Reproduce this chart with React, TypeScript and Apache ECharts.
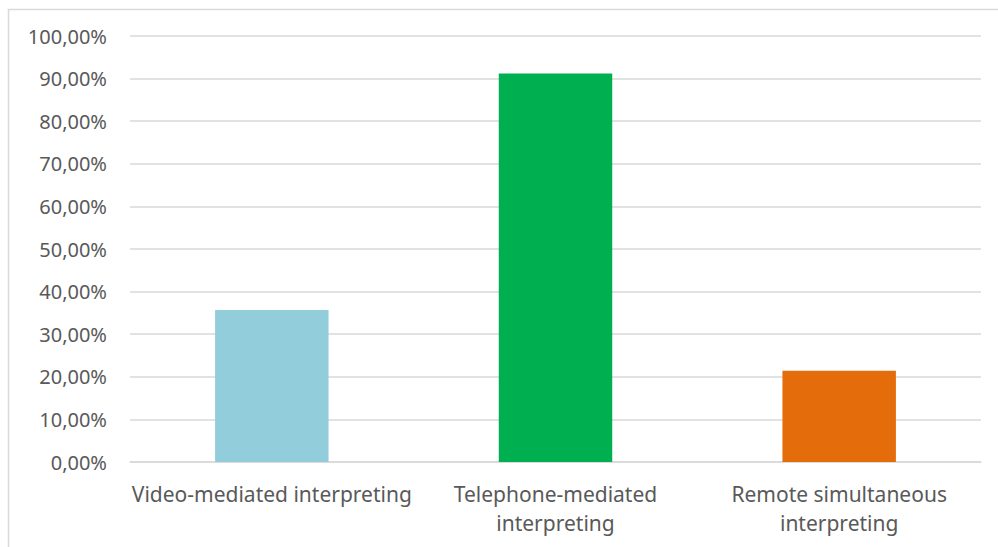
import React, { useEffect, useRef } from "react";
import * as echarts from "echarts";

const categories = [
  "Video-mediated interpreting",
  "Telephone-mediated\ninterpreting",
  "Remote simultaneous\ninterpreting",
];
const values = [35.7, 91.2, 21.4];
const barColors = ["#92CDDC", "#00B050", "#E46C0A"];

export default function App() {
  const ref = useRef<HTMLDivElement>(null);
  useEffect(() => {
    if (!ref.current) return;
    const chart = echarts.init(ref.current, undefined, { renderer: "svg" });
    chart.setOption({
      animation: false,
      backgroundColor: "#ffffff",
      graphic: [
        {
          type: "rect",
          left: 6,
          top: 7,
          shape: { width: 1100, height: 700 },
          style: { fill: "none", stroke: "#d9d9d9", lineWidth: 1.5 },
          silent: true,
          z: -1,
        },
      ],
      grid: { left: 130, right: 17, top: 36, bottom: 85, containLabel: false },
      xAxis: {
        type: "category",
        data: categories,
        axisLine: { show: true, lineStyle: { color: "#d9d9d9", width: 1.5 } },
        axisTick: { show: false },
        axisLabel: {
          interval: 0,
          color: "#595959",
          fontFamily: "Noto Sans",
          fontSize: 21,
          lineHeight: 29,
          margin: 17,
        },
      },
      yAxis: {
        type: "value",
        min: 0,
        max: 100,
        interval: 10,
        axisLine: { show: false },
        axisTick: { show: false },
        splitLine: { lineStyle: { color: "#d9d9d9", width: 1.5 } },
        axisLabel: {
          color: "#595959",
          fontFamily: "Noto Sans",
          fontSize: 20,
          margin: 23,
          formatter: (v: number) => v.toFixed(2).replace(".", ",") + "%",
        },
      },
      series: [
        {
          type: "bar",
          barWidth: "40%",
          data: values.map((v, i) => ({ value: v, itemStyle: { color: barColors[i] } })),
        },
      ],
    });
    return () => chart.dispose();
  }, []);
  return (
    <div
      ref={ref}
      style={{ position: "fixed", left: 0, top: 0, width: 998, height: 547 }}
    />
  );
}
